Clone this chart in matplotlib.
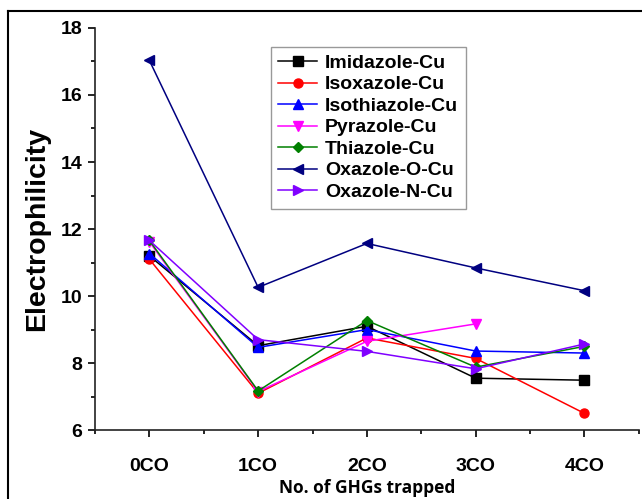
import matplotlib
matplotlib.use("Agg")
import matplotlib.pyplot as plt
from matplotlib.lines import Line2D
import numpy as np

categories = ["0CO", "1CO", "2CO", "3CO", "4CO"]
imidazole = [11.20, 8.52, 9.10, 7.55, 7.49]
isoxazole = [11.10, 7.10, 8.75, 8.14, 6.50]
isothiazole = [11.27, 8.47, 9.00, 8.36, 8.30]
pyrazole = [11.62, 7.15, 8.65, 9.17]
thiazole = [11.66, 7.17, 9.27, 7.88, 8.50]
oxazole_o = [17.03, 10.26, 11.57, 10.84, 10.16]
oxazole_n = [11.66, 8.70, 8.35, 7.83, 8.57]

series = [
    ("Imidazole-Cu", imidazole, "black", "s"),
    ("Isoxazole-Cu", isoxazole, "#ff0000", "o"),
    ("Isothiazole-Cu", isothiazole, "#0000ff", "^"),
    ("Pyrazole-Cu", pyrazole, "#ff00ff", "v"),
    ("Thiazole-Cu", thiazole, "#008000", "D"),
    ("Oxazole-O-Cu", oxazole_o, "#000080", "<"),
    ("Oxazole-N-Cu", oxazole_n, "#8000ff", ">"),
]

plt.rcParams['font.family'] = ['Liberation Sans', 'DejaVu Sans']

fig = plt.figure(figsize=(6.42, 4.99), dpi=100)
ax = fig.add_axes([0.148, 0.138, 0.847, 0.806])

x = np.arange(len(categories))
for name, vals, color, mk in series:
    ms = 6.5 if mk != "D" else 5.5
    ax.plot(x[:len(vals)], vals, color=color, marker=mk, markersize=ms,
            linewidth=1.1, label=name)

ax.set_xlim(-0.5, 4.5)
ax.set_ylim(6, 18)
ax.set_xticks(x)
ax.set_xticklabels(categories, fontsize=14, fontweight="bold")
ax.set_xticks(np.arange(-0.5, 4.6, 1.0), minor=True)
ax.set_yticks(np.arange(6, 19, 2))
ax.set_yticklabels([str(v) for v in range(6, 19, 2)], fontsize=14, fontweight="bold")
ax.set_yticks(np.arange(7, 18, 2), minor=True)
ax.tick_params(axis="both", which="major", direction="out", length=5, width=1.2, pad=4)
ax.tick_params(axis="both", which="minor", direction="out", length=3, width=1.2)
ax.tick_params(axis="x", which="major", pad=15)

for s in ["top", "right"]:
    ax.spines[s].set_visible(False)
for s in ["left", "bottom"]:
    ax.spines[s].set_linewidth(1.2)
    ax.spines[s].set_color("#222222")

ax.set_ylabel("Electrophilicity", fontsize=20.5, fontweight="bold", labelpad=8)
ax.set_xlabel("No. of GHGs trapped", fontsize=12.5, fontweight="bold",
              family=["Open Sans", "DejaVu Sans"], labelpad=3)

leg = ax.legend(loc="upper left", bbox_to_anchor=(0.305, 0.978),
                prop={"weight": "bold", "size": 14}, fancybox=False,
                edgecolor="#999999", framealpha=1, handlelength=2.0,
                labelspacing=0.2, borderpad=0.4, handletextpad=0.4)
leg.get_frame().set_linewidth(1.0)

fig.add_artist(Line2D([8/642, 8/642], [0, 1 - 11/499], color="black", linewidth=1.5,
                      transform=fig.transFigure))
fig.add_artist(Line2D([8/642, 1], [1 - 11/499, 1 - 11/499], color="black", linewidth=1.5,
                      transform=fig.transFigure))

fig.savefig("out.png", dpi=100)
